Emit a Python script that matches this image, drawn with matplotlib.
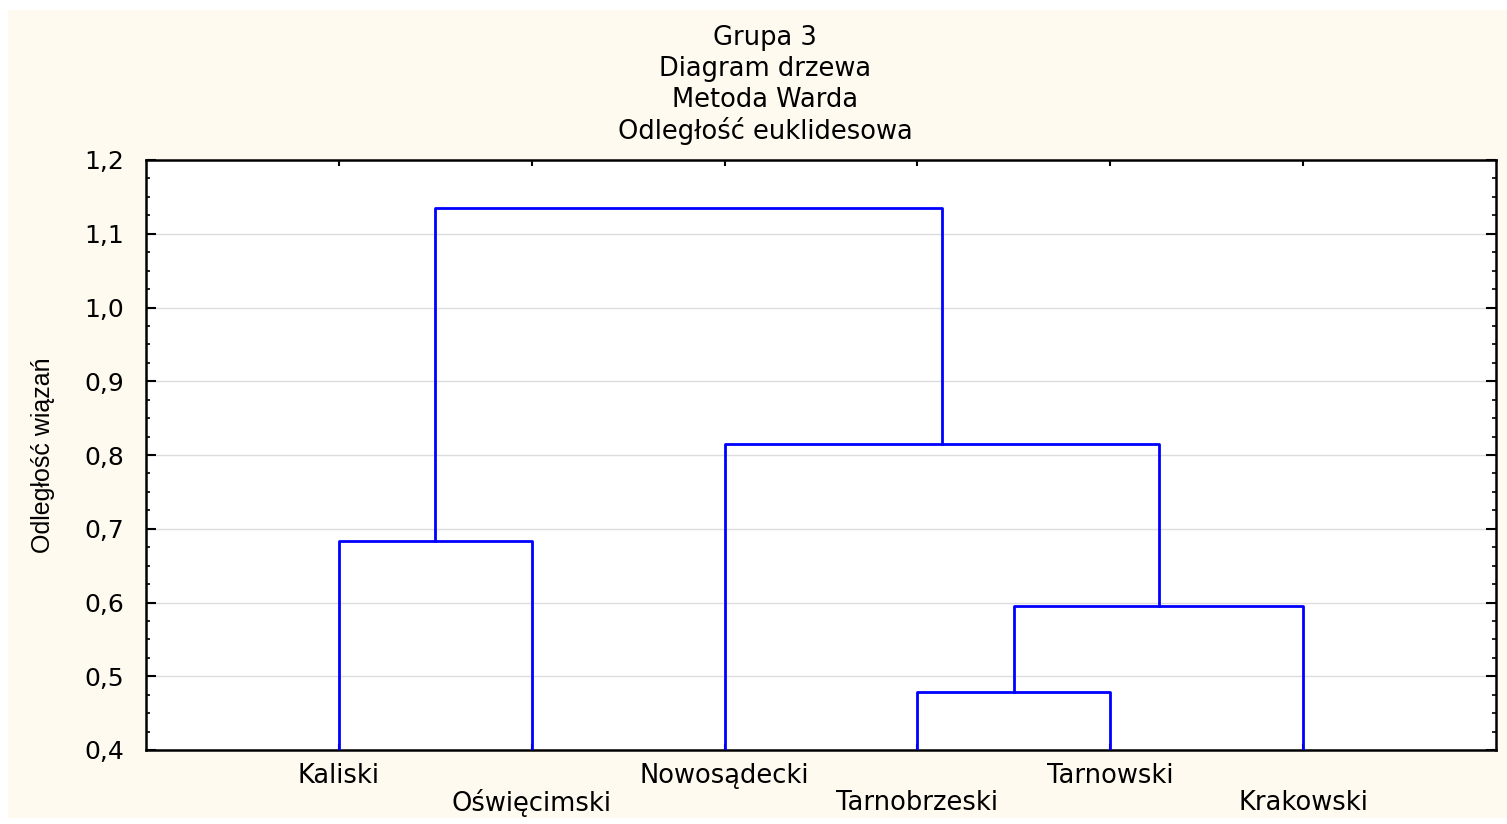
#Diagram drzewa (metoda Warda) dla grupy 3
import matplotlib.pyplot as plt
from matplotlib.patches import Rectangle
from matplotlib.ticker import MultipleLocator, FuncFormatter
from matplotlib.transforms import blended_transform_factory

plt.rcParams['font.family'] = ['DejaVu Sans']

# kolejnosc lisci na osi x
leaves = ['Kaliski', 'Oświęcimski', 'Nowosądecki', 'Tarnobrzeski', 'Tarnowski', 'Krakowski']
# laczenia: (lewy, prawy, odleglosc) - indeksy >= 6 to skupienia utworzone wczesniej
merges = [
    (3, 4, 0.478),   # Tarnobrzeski + Tarnowski -> 6
    (6, 5, 0.595),   # + Krakowski -> 7
    (0, 1, 0.683),   # Kaliski + Oświęcimski -> 8
    (2, 7, 0.815),   # Nowosądecki + 7 -> 9
    (8, 9, 1.135),   # calosc
]
yticks = [0.4, 0.5, 0.6, 0.7, 0.8, 0.9, 1.0, 1.1, 1.2]

fig = plt.figure(figsize=(15.07, 8.24), dpi=100, facecolor='white')
fig.patches.append(Rectangle((8/1507, 6/824), 1 - 8/1507, 808/824, transform=fig.transFigure,
                             facecolor='#fffaf0', edgecolor='none', zorder=-10))
ax = fig.add_axes([146/1507, 1 - 750/824, 1350/1507, 590/824])
ax.set_facecolor('white')

# pozycje i wysokosci wezlow
pos = {i: i + 1 for i in range(len(leaves))}
hgt = {i: 0.4 for i in range(len(leaves))}
for k, (a, b, h) in enumerate(merges):
    xa, xb = pos[a], pos[b]
    ax.plot([xa, xa, xb, xb], [hgt[a], h, h, hgt[b]], color='#0000ff', linewidth=2, zorder=3)
    pos[len(leaves) + k] = (xa + xb) / 2
    hgt[len(leaves) + k] = h

ax.set_xlim(0, 7)
ax.set_ylim(0.4, 1.2)
ax.set_yticks(yticks)
ax.yaxis.set_minor_locator(MultipleLocator(0.025))
ax.yaxis.set_major_formatter(FuncFormatter(lambda v, p: ('%.1f' % v).replace('.', ',')))
ax.set_xticks(range(1, len(leaves) + 1))
ax.set_xticklabels([])
ax.tick_params(axis='y', which='major', direction='in', length=7, width=1.5, labelsize=18,
               right=True, pad=16)
ax.tick_params(axis='y', which='minor', direction='in', length=3, width=1.2, right=True)
ax.tick_params(axis='x', direction='in', length=4, width=1.5, top=True)
ax.grid(axis='y', color='#dddddd', linewidth=1)
ax.set_axisbelow(True)
for s in ax.spines.values():
    s.set_linewidth(1.8)

# etykiety lisci w dwoch rzedach
tr = blended_transform_factory(ax.transData, ax.transAxes)
for i, name in enumerate(leaves):
    y = -0.044 if i % 2 == 0 else -0.090
    ax.text(i + 1, y, name, transform=tr, ha='center', va='center', fontsize=18.5)

ax.set_ylabel('Odległość wiązań', fontsize=18, family=['Liberation Sans Narrow', 'Liberation Sans'],
              labelpad=21)

title = ['Grupa 3', 'Diagram drzewa', 'Metoda Warda', 'Odległość euklidesowa']
for i, t in enumerate(title):
    fig.text(765/1507, 1 - (38 + 31 * i)/824, t, ha='center', va='center', fontsize=18.5)

plt.savefig('out.png', dpi=100, facecolor=fig.get_facecolor())
